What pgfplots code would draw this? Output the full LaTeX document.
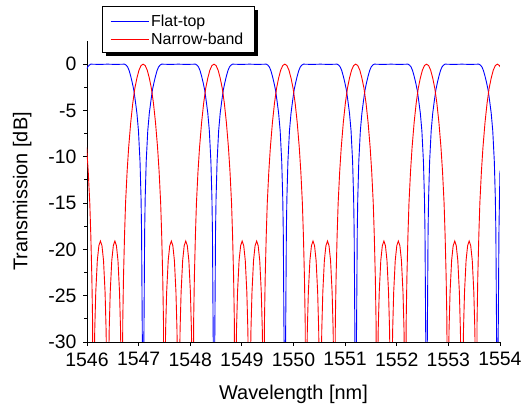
\documentclass[border=0pt]{standalone}
\usepackage{pgfplots}
\pgfplotsset{compat=1.18}
\usepackage{fontspec}
\setmainfont{Liberation Sans}

\begin{document}
\begin{tikzpicture}
\begin{axis}[
    at={(0,0)}, anchor=south west,
    scale only axis,
    width=413bp, height=301bp,
    xmin=1546, xmax=1554,
    ymin=-30, ymax=2.5,
    axis x line*=bottom, axis y line*=left,
    axis line style={line width=0.9bp},
    xtick={1546,...,1554},
    ytick={-30,-25,...,0},
    minor x tick num=1, minor y tick num=1,
    tick align=outside,
    major tick length=4bp, minor tick length=3bp,
    tick style={line width=0.9bp, black},
    /pgf/number format/assume math mode=true,
    /pgf/number format/.cd, 1000 sep={}, /pgfplots/.cd,
    tick label style={font=\fontsize{19.5}{22}\selectfont},
    xticklabel style={yshift=-3bp},
    yticklabel style={xshift=-3bp},
    label style={font=\fontsize{20}{24}\selectfont},
    xlabel={Wavelength [nm]},
    ylabel={Transmission [dB]},
    xlabel style={yshift=-12bp},
    ylabel style={yshift=10bp},
    legend style={at={(0.0436,1.106)}, anchor=north west,
        draw=none, fill=white,
        font=\fontsize{16}{19}\selectfont,
        inner xsep=5bp, inner ysep=4bp, row sep=1bp,
        legend cell align=left},
]

% Flat-top
\addplot[color=blue, line width=0.9bp,
    legend image code/.code={\draw[color=blue, line width=1bp] (0bp,0bp) -- (38bp,0bp);}] coordinates {
(1546.000,-0.5) (1546.014,-0.3) (1546.044,-0.1) (1546.074,0) (1546.25,-0.03) (1546.40,0) (1546.55,-0.03)
(1546.727,0) (1546.757,-0.1) (1546.787,-0.3) (1546.817,-0.7) (1546.847,-1.3) (1546.877,-2.0) (1546.907,-2.8)
(1546.937,-4.0) (1546.967,-5.3) (1546.997,-7.2) (1547.027,-10.5) (1547.047,-14.5) (1547.057,-18) (1547.067,-26)
(1547.075,-32) (1547.087,-50) (1547.099,-32) (1547.107,-26) (1547.117,-18) (1547.127,-14.5) (1547.147,-10.5)
(1547.177,-7.2) (1547.207,-5.3) (1547.237,-4.0) (1547.267,-2.8) (1547.297,-2.0) (1547.327,-1.3) (1547.357,-0.7)
(1547.387,-0.3) (1547.417,-0.1) (1547.447,0) (1547.62,-0.03) (1547.77,0) (1547.92,-0.03)
(1548.100,0) (1548.130,-0.1) (1548.160,-0.3) (1548.190,-0.7) (1548.220,-1.3) (1548.250,-2.0) (1548.280,-2.8)
(1548.310,-4.0) (1548.340,-5.3) (1548.370,-7.2) (1548.400,-10.5) (1548.420,-14.5) (1548.430,-18) (1548.440,-26)
(1548.448,-32) (1548.460,-50) (1548.472,-32) (1548.480,-26) (1548.490,-18) (1548.500,-14.5) (1548.520,-10.5)
(1548.550,-7.2) (1548.580,-5.3) (1548.610,-4.0) (1548.640,-2.8) (1548.670,-2.0) (1548.700,-1.3) (1548.730,-0.7)
(1548.760,-0.3) (1548.790,-0.1) (1548.820,0) (1548.99,-0.03) (1549.15,0) (1549.30,-0.03)
(1549.472,0) (1549.502,-0.1) (1549.532,-0.3) (1549.562,-0.7) (1549.592,-1.3) (1549.622,-2.0) (1549.652,-2.8)
(1549.682,-4.0) (1549.712,-5.3) (1549.742,-7.2) (1549.772,-10.5) (1549.792,-14.5) (1549.802,-18) (1549.812,-26)
(1549.820,-32) (1549.832,-50) (1549.844,-32) (1549.852,-26) (1549.862,-18) (1549.872,-14.5) (1549.892,-10.5)
(1549.922,-7.2) (1549.952,-5.3) (1549.982,-4.0) (1550.012,-2.8) (1550.042,-2.0) (1550.072,-1.3) (1550.102,-0.7)
(1550.132,-0.3) (1550.162,-0.1) (1550.192,0) (1550.36,-0.03) (1550.52,0) (1550.68,-0.03)
(1550.845,0) (1550.875,-0.1) (1550.905,-0.3) (1550.935,-0.7) (1550.965,-1.3) (1550.995,-2.0) (1551.025,-2.8)
(1551.055,-4.0) (1551.085,-5.3) (1551.115,-7.2) (1551.145,-10.5) (1551.165,-14.5) (1551.175,-18) (1551.185,-26)
(1551.193,-32) (1551.205,-50) (1551.217,-32) (1551.225,-26) (1551.235,-18) (1551.245,-14.5) (1551.265,-10.5)
(1551.295,-7.2) (1551.325,-5.3) (1551.355,-4.0) (1551.385,-2.8) (1551.415,-2.0) (1551.445,-1.3) (1551.475,-0.7)
(1551.505,-0.3) (1551.535,-0.1) (1551.565,0) (1551.73,-0.03) (1551.89,0) (1552.05,-0.03)
(1552.217,0) (1552.247,-0.1) (1552.277,-0.3) (1552.307,-0.7) (1552.337,-1.3) (1552.367,-2.0) (1552.397,-2.8)
(1552.427,-4.0) (1552.457,-5.3) (1552.487,-7.2) (1552.517,-10.5) (1552.537,-14.5) (1552.547,-18) (1552.557,-26)
(1552.565,-32) (1552.577,-50) (1552.589,-32) (1552.597,-26) (1552.607,-18) (1552.617,-14.5) (1552.637,-10.5)
(1552.667,-7.2) (1552.697,-5.3) (1552.727,-4.0) (1552.757,-2.8) (1552.787,-2.0) (1552.817,-1.3) (1552.847,-0.7)
(1552.877,-0.3) (1552.907,-0.1) (1552.937,0) (1553.10,-0.03) (1553.26,0) (1553.42,-0.03)
(1553.590,0) (1553.620,-0.1) (1553.650,-0.3) (1553.680,-0.7) (1553.710,-1.3) (1553.740,-2.0) (1553.770,-2.8)
(1553.800,-4.0) (1553.830,-5.3) (1553.860,-7.2) (1553.890,-10.5) (1553.910,-14.5) (1553.920,-18) (1553.930,-26)
(1553.938,-32) (1553.950,-50) (1553.962,-32) (1553.970,-26) (1553.980,-18) (1553.990,-14.5) (1554.000,-11.5)
};
\addlegendentry{Flat-top}

% Narrow-band
\addplot[color=red, line width=0.9bp,
    legend image code/.code={\draw[color=red, line width=1bp] (0bp,0bp) -- (38bp,0bp);}] coordinates {
(1545.994,-9.0) (1546.024,-11.6) (1546.054,-15) (1546.074,-18.5) (1546.094,-23) (1546.109,-28) (1546.119,-50)
(1546.135,-34.6) (1546.150,-28.7) (1546.170,-24.6) (1546.200,-21.2) (1546.230,-19.6) (1546.260,-19.1) (1546.290,-19.6)
(1546.320,-21.2) (1546.350,-24.6) (1546.370,-28.7) (1546.385,-34.6) (1546.400,-50) (1546.415,-34.6) (1546.430,-28.7)
(1546.450,-24.6) (1546.480,-21.2) (1546.510,-19.6) (1546.540,-19.1) (1546.570,-19.6) (1546.600,-21.2) (1546.630,-24.6)
(1546.650,-28.7) (1546.665,-34.6)
(1546.682,-50) (1546.692,-28) (1546.707,-23) (1546.727,-18.5) (1546.747,-15) (1546.777,-11.6) (1546.807,-9.0)
(1546.847,-6.3) (1546.887,-4.2) (1546.927,-2.6) (1546.967,-1.5) (1547.007,-0.65) (1547.047,-0.15) (1547.087,0)
(1547.127,-0.15) (1547.167,-0.65) (1547.207,-1.5) (1547.247,-2.6) (1547.287,-4.2) (1547.327,-6.3) (1547.367,-9.0)
(1547.397,-11.6) (1547.427,-15) (1547.447,-18.5) (1547.467,-23) (1547.482,-28) (1547.492,-50)
(1547.508,-34.6) (1547.523,-28.7) (1547.543,-24.6) (1547.573,-21.2) (1547.603,-19.6) (1547.633,-19.1) (1547.663,-19.6)
(1547.693,-21.2) (1547.723,-24.6) (1547.743,-28.7) (1547.758,-34.6) (1547.773,-50) (1547.788,-34.6) (1547.803,-28.7)
(1547.823,-24.6) (1547.853,-21.2) (1547.883,-19.6) (1547.913,-19.1) (1547.943,-19.6) (1547.973,-21.2) (1548.003,-24.6)
(1548.023,-28.7) (1548.038,-34.6)
(1548.055,-50) (1548.065,-28) (1548.080,-23) (1548.100,-18.5) (1548.120,-15) (1548.150,-11.6) (1548.180,-9.0)
(1548.220,-6.3) (1548.260,-4.2) (1548.300,-2.6) (1548.340,-1.5) (1548.380,-0.65) (1548.420,-0.15) (1548.460,0)
(1548.500,-0.15) (1548.540,-0.65) (1548.580,-1.5) (1548.620,-2.6) (1548.660,-4.2) (1548.700,-6.3) (1548.740,-9.0)
(1548.770,-11.6) (1548.800,-15) (1548.820,-18.5) (1548.840,-23) (1548.855,-28) (1548.865,-50)
(1548.881,-34.6) (1548.896,-28.7) (1548.916,-24.6) (1548.946,-21.2) (1548.976,-19.6) (1549.006,-19.1) (1549.036,-19.6)
(1549.066,-21.2) (1549.096,-24.6) (1549.116,-28.7) (1549.131,-34.6) (1549.146,-50) (1549.161,-34.6) (1549.176,-28.7)
(1549.196,-24.6) (1549.226,-21.2) (1549.256,-19.6) (1549.286,-19.1) (1549.316,-19.6) (1549.346,-21.2) (1549.376,-24.6)
(1549.396,-28.7) (1549.411,-34.6)
(1549.427,-50) (1549.437,-28) (1549.452,-23) (1549.472,-18.5) (1549.492,-15) (1549.522,-11.6) (1549.552,-9.0)
(1549.592,-6.3) (1549.632,-4.2) (1549.672,-2.6) (1549.712,-1.5) (1549.752,-0.65) (1549.792,-0.15) (1549.832,0)
(1549.872,-0.15) (1549.912,-0.65) (1549.952,-1.5) (1549.992,-2.6) (1550.032,-4.2) (1550.072,-6.3) (1550.112,-9.0)
(1550.142,-11.6) (1550.172,-15) (1550.192,-18.5) (1550.212,-23) (1550.227,-28) (1550.237,-50)
(1550.253,-34.6) (1550.268,-28.7) (1550.288,-24.6) (1550.318,-21.2) (1550.348,-19.6) (1550.378,-19.1) (1550.408,-19.6)
(1550.438,-21.2) (1550.468,-24.6) (1550.488,-28.7) (1550.503,-34.6) (1550.518,-50) (1550.533,-34.6) (1550.548,-28.7)
(1550.568,-24.6) (1550.598,-21.2) (1550.628,-19.6) (1550.658,-19.1) (1550.688,-19.6) (1550.718,-21.2) (1550.748,-24.6)
(1550.768,-28.7) (1550.783,-34.6)
(1550.800,-50) (1550.810,-28) (1550.825,-23) (1550.845,-18.5) (1550.865,-15) (1550.895,-11.6) (1550.925,-9.0)
(1550.965,-6.3) (1551.005,-4.2) (1551.045,-2.6) (1551.085,-1.5) (1551.125,-0.65) (1551.165,-0.15) (1551.205,0)
(1551.245,-0.15) (1551.285,-0.65) (1551.325,-1.5) (1551.365,-2.6) (1551.405,-4.2) (1551.445,-6.3) (1551.485,-9.0)
(1551.515,-11.6) (1551.545,-15) (1551.565,-18.5) (1551.585,-23) (1551.600,-28) (1551.610,-50)
(1551.626,-34.6) (1551.641,-28.7) (1551.661,-24.6) (1551.691,-21.2) (1551.721,-19.6) (1551.751,-19.1) (1551.781,-19.6)
(1551.811,-21.2) (1551.841,-24.6) (1551.861,-28.7) (1551.876,-34.6) (1551.891,-50) (1551.906,-34.6) (1551.921,-28.7)
(1551.941,-24.6) (1551.971,-21.2) (1552.001,-19.6) (1552.031,-19.1) (1552.061,-19.6) (1552.091,-21.2) (1552.121,-24.6)
(1552.141,-28.7) (1552.156,-34.6)
(1552.172,-50) (1552.182,-28) (1552.197,-23) (1552.217,-18.5) (1552.237,-15) (1552.267,-11.6) (1552.297,-9.0)
(1552.337,-6.3) (1552.377,-4.2) (1552.417,-2.6) (1552.457,-1.5) (1552.497,-0.65) (1552.537,-0.15) (1552.577,0)
(1552.617,-0.15) (1552.657,-0.65) (1552.697,-1.5) (1552.737,-2.6) (1552.777,-4.2) (1552.817,-6.3) (1552.857,-9.0)
(1552.887,-11.6) (1552.917,-15) (1552.937,-18.5) (1552.957,-23) (1552.972,-28) (1552.982,-50)
(1552.998,-34.6) (1553.013,-28.7) (1553.033,-24.6) (1553.063,-21.2) (1553.093,-19.6) (1553.123,-19.1) (1553.153,-19.6)
(1553.183,-21.2) (1553.213,-24.6) (1553.233,-28.7) (1553.248,-34.6) (1553.263,-50) (1553.278,-34.6) (1553.293,-28.7)
(1553.313,-24.6) (1553.343,-21.2) (1553.373,-19.6) (1553.403,-19.1) (1553.433,-19.6) (1553.463,-21.2) (1553.493,-24.6)
(1553.513,-28.7) (1553.528,-34.6)
(1553.545,-50) (1553.555,-28) (1553.570,-23) (1553.590,-18.5) (1553.610,-15) (1553.640,-11.6) (1553.670,-9.0)
(1553.710,-6.3) (1553.750,-4.2) (1553.790,-2.6) (1553.830,-1.5) (1553.870,-0.65) (1553.910,-0.15) (1553.950,0)
(1553.990,-0.15) (1554.000,-0.3)
};
\addlegendentry{Narrow-band}
\end{axis}
% legend frame and its drop shadow, drawn on top
\draw[black, line width=0.7bp] (15bp,290bp) rectangle (167bp,336bp);
\draw[black, line width=4bp] (169bp,332bp) -- (169bp,288bp) -- (19bp,288bp);
\pgfresetboundingbox
\path[use as bounding box] (-87bp,-66bp) rectangle (435bp,342bp);
\end{tikzpicture}
\end{document}
